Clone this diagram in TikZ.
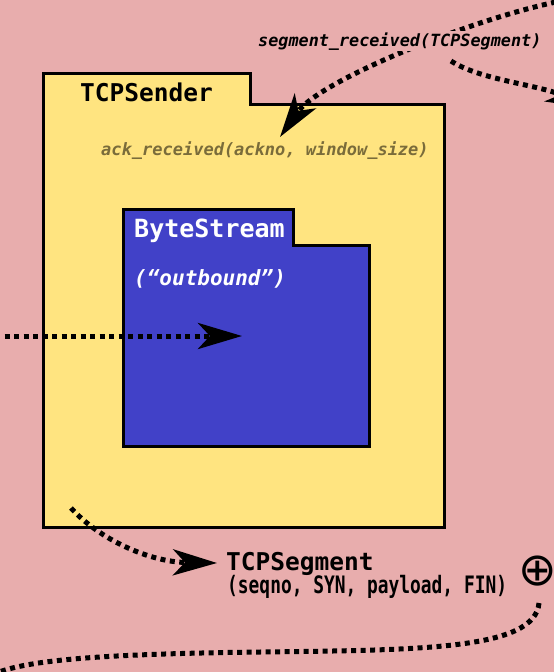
\documentclass[tikz,border=0pt]{standalone}
\usepackage{fontspec}
\usetikzlibrary{arrows.meta}
\newfontfamily\monof{DejaVu Sans Mono}
\newfontfamily\condmono[FakeStretch=0.745]{DejaVu Sans Mono}
\newfontfamily\symf{DejaVu Sans}
\definecolor{bgpink}{HTML}{E8ADAD}
\definecolor{tyellow}{HTML}{FFE480}
\definecolor{bblue}{HTML}{4141C8}
\definecolor{olive}{HTML}{7A6C3A}
\begin{document}
\begin{tikzpicture}[x=1pt,y=-1pt,
  folder/.style={draw=black,line width=3pt,line join=miter},
  flow/.style={line width=5pt,dash pattern=on 5pt off 4.5pt},
  tip/.style={-{Stealth[length=44pt,width=26pt,inset=12pt]}},
  lbl/.style={inner sep=0pt,anchor=base west}]
\useasboundingbox (0,0) rectangle (554,672);
\fill[bgpink] (0,0) rectangle (554,672);
\clip (0,0) rectangle (554,672);

% TCPSender folder
\draw[folder,fill=tyellow] (43,73) -- (250,73) -- (250,104) -- (444,104) -- (444,527) -- (43,527) -- cycle;
\node[lbl,font=\monof\bfseries\fontsize{24.5}{28}\selectfont] (sender) at (80,101) {TCPSender};
\node[lbl,text=olive,font=\monof\bfseries\itshape\fontsize{17}{20}\selectfont] (ack) at (101,155) {ack\_received(ackno, window\_size)};

% ByteStream folder
\draw[folder,fill=bblue] (123,209) -- (293,209) -- (293,245) -- (369,245) -- (369,446) -- (123,446) -- cycle;
\node[lbl,text=white,font=\monof\bfseries\fontsize{25}{28}\selectfont] (bs) at (134,237) {ByteStream};
\node[lbl,text=white,font=\monof\bfseries\itshape\fontsize{21}{24}\selectfont] (outb) at (134,285) {(“outbound”)};

% coordinates
\coordinate (inL) at (-5,336);
\coordinate (inT) at (242,336);
\coordinate (srcTR) at (556,2);
\coordinate (ackT) at (280,137);
\coordinate (outS) at (451,61);
\coordinate (outT) at (590,108);
\coordinate (segS) at (71,508);
\coordinate (segT) at (217,563);
\coordinate (botS) at (539,603);
\coordinate (botE) at (-10,676);

% arrows
\draw[flow,tip] (inL) -- (inT);
\draw[flow,tip] (srcTR) .. controls (470,20) and (320,80) .. (ackT);
\node[lbl,fill=bgpink,inner sep=1pt,font=\monof\bfseries\itshape\fontsize{16.8}{20}\selectfont] (segrec) at (257,46) {segment\_received(TCPSegment)};
\draw[flow,tip] (outS) .. controls (480,80) and (540,85) .. (outT);
\draw[flow,tip] (segS) .. controls (100,540) and (150,562) .. (segT);
\node[lbl,font=\monof\bfseries\fontsize{24.5}{28}\selectfont] (seg) at (226,570) {TCPSegment};
\node[lbl,font=\condmono\bfseries\fontsize{24}{28}\selectfont] (fields) at (227,593) {(seqno, SYN, payload, FIN)};
\node[inner sep=0pt,font=\symf\fontsize{46}{50}\selectfont] (plus) at (538,571) {⊕};
\draw[flow] (botS) .. controls (535,650) and (420,650) .. (260,652) .. controls (100,654) and (20,660) .. (botE);
\end{tikzpicture}
\end{document}
